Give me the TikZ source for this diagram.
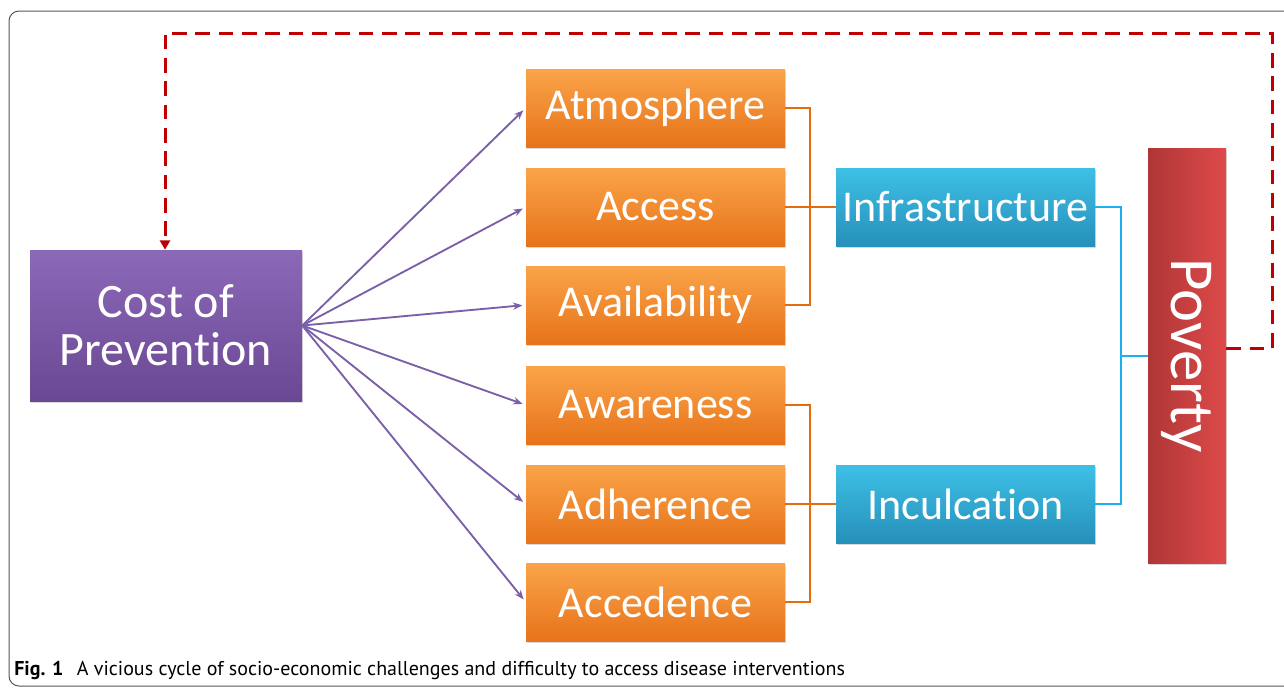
\documentclass[tikz,border=0pt]{standalone}
\usepackage{fontspec}
\setmainfont{Carlito}[RawFeature={-liga}]
\newfontfamily\captionfont{PT Sans}
\usetikzlibrary{arrows.meta,calc,shadows}

\definecolor{purpletop}{HTML}{8B69B9}
\definecolor{purplebot}{HTML}{6A4893}
\definecolor{orangetop}{HTML}{FAA449}
\definecolor{orangebot}{HTML}{E7731A}
\definecolor{bluetop}{HTML}{3EC0E6}
\definecolor{bluebot}{HTML}{2690BA}
\definecolor{redleft}{HTML}{AF3636}
\definecolor{redright}{HTML}{DE4A4A}
\definecolor{spokepurple}{HTML}{7B5FA8}
\definecolor{linkorange}{HTML}{E46C0A}
\definecolor{linkblue}{HTML}{1CB0EC}
\definecolor{fbred}{HTML}{C00000}
\definecolor{framegray}{HTML}{555555}

\begin{document}
\begin{tikzpicture}[x=0.75pt,y=0.75pt,yscale=-1,xscale=1,
  boxbase/.style={inner sep=0pt,text=white,font=\fontsize{33}{36}\selectfont,
    drop shadow={shadow xshift=0.8pt,shadow yshift=-1.2pt,opacity=0.3}},
  factorbox/.style={boxbase,minimum width=194.25pt,minimum height=58.5pt,top color=orangetop,bottom color=orangebot},
  groupbox/.style={boxbase,minimum width=194.25pt,minimum height=58.5pt,top color=bluetop,bottom color=bluebot},
  costbox/.style={boxbase,minimum width=204pt,minimum height=113.25pt,top color=purpletop,bottom color=purplebot,align=center,font=\fontsize{36}{36}\selectfont},
  povertybox/.style={boxbase,minimum width=58.5pt,minimum height=311.25pt,left color=redleft,right color=redright},
  spoke/.style={draw=spokepurple,line width=1.4pt,-{Stealth[length=7pt,width=5.5pt]},shorten >=2.5pt},
  orangelink/.style={draw=linkorange,line width=1.5pt},
  bluelink/.style={draw=linkblue,line width=1.5pt},
  feedback/.style={draw=fbred,line width=2.25pt,dash pattern=on 11pt off 6.5pt,-{Triangle[length=7pt,width=7.5pt]}},
]
\useasboundingbox (0,0) rectangle (1284,687);

%Shape: Frame
\draw[framegray,line width=0.75pt,rounded corners=7.5pt] (1300,11) -- (9,11) -- (9,686) -- (1300,686);

%Shape: Cost box
\node[costbox] (cost) at (166,325.5) {Cost of\\Prevention};

%Shape: Factor boxes
\node[factorbox] (atmos) at (655.5,108) {Atmosphere};
\node[factorbox] (access) at (655.5,207) {Access};
\node[factorbox] (avail) at (655.5,305) {Availability};
\node[factorbox] (aware) at (655.5,405) {Awareness};
\node[factorbox] (adher) at (655.5,504) {Adherence};
\node[factorbox] (acced) at (655.5,602) {Accedence};

%Shape: Group boxes
\node[groupbox] (infra) at (965.5,207) {Infrastructure};
\node[groupbox] (inculc) at (965.5,504) {Inculcation};

%Shape: Poverty box
\node[povertybox] (pov) at (1187,355.5) {};
% Text Node
\node[rotate=-90,text=white,inner sep=0pt,font=\fontsize{47}{47}\selectfont] (povtext) at (pov.center) {Poverty};

% Spokes
\foreach \f in {atmos,access,avail,aware,adher,acced}
  \draw[spoke] (cost.east) -- (\f.west);

% Orange brackets
\coordinate (joinA) at (810,207);
\coordinate (joinB) at (810,504);
\draw[orangelink] (atmos.east) -| (joinA) |- (avail.east);
\draw[orangelink] (access.east) -- (infra.west);
\draw[orangelink] (aware.east) -| (joinB) |- (acced.east);
\draw[orangelink] (adher.east) -- (inculc.west);

% Blue bracket
\coordinate (joinC) at (1121,355.5);
\draw[bluelink] (infra.east) -| (joinC) |- (inculc.east);
\draw[bluelink] (joinC) -- (pov.west);

% Feedback loop
\coordinate (fbR) at (1272,33);
\coordinate (fbL) at (165,33);
\draw[feedback] ($(pov.east)+(0,-7)$) -| (fbR) -- (fbL) -- (fbL |- cost.north);

% Text Node
\node[anchor=base west,inner sep=0pt,font=\captionfont\fontsize{15}{17}\selectfont] (caption) at (14,675)
  {\textbf{Fig. 1}\hspace{10pt}A vicious cycle of socio-economic challenges and difficulty to access disease interventions};

\end{tikzpicture}
\end{document}
